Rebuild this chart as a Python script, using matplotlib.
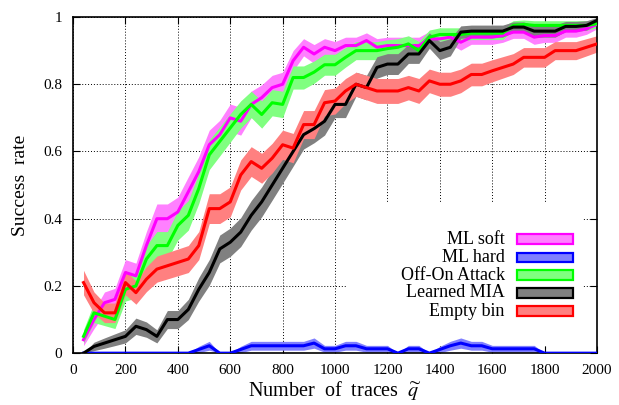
import numpy as np
import matplotlib
matplotlib.use("Agg")
import matplotlib.pyplot as plt
from matplotlib.patches import Rectangle

plt.rcParams['font.family'] = ['Liberation Serif', 'DejaVu Serif']
plt.rcParams['mathtext.fontset'] = 'stix'

# number of traces used by each attack
traces = [40, 80, 120, 160, 200, 240, 280, 320, 360, 400,
          440, 480, 520, 560, 600, 640, 680, 720, 760, 800,
          840, 880, 920, 960, 1000, 1040, 1080, 1120, 1160, 1200,
          1240, 1280, 1320, 1360, 1400, 1440, 1480, 1520, 1560, 1600,
          1640, 1680, 1720, 1760, 1800, 1840, 1880, 1920, 1960, 2000]

ml_soft = [0.04, 0.10, 0.15, 0.16, 0.24, 0.23, 0.32, 0.40, 0.40, 0.42,
           0.48, 0.54, 0.62, 0.65, 0.70, 0.69, 0.74, 0.76, 0.79, 0.80,
           0.87, 0.91, 0.89, 0.91, 0.90, 0.915, 0.915, 0.93, 0.91, 0.915,
           0.915, 0.915, 0.915, 0.935, 0.935, 0.94, 0.925, 0.94, 0.94, 0.94,
           0.945, 0.955, 0.955, 0.94, 0.945, 0.945, 0.958, 0.958, 0.965, 0.978]

ml_hard = [0, 0, 0, 0, 0, 0, 0, 0, 0, 0,
           0, 0.011, 0.022, 0, 0, 0.011, 0.022, 0.022, 0.022, 0.022,
           0.022, 0.022, 0.03, 0.013, 0.013, 0.022, 0.022, 0.013, 0.013, 0.013,
           0, 0.013, 0.013, 0, 0.011, 0.022, 0.03, 0.022, 0.022, 0.013,
           0.013, 0.013, 0.013, 0.013, 0, 0, 0, 0, 0, 0]

off_on = [0.05, 0.12, 0.11, 0.10, 0.19, 0.20, 0.28, 0.32, 0.32, 0.38,
          0.41, 0.49, 0.59, 0.63, 0.67, 0.71, 0.74, 0.71, 0.745, 0.74,
          0.82, 0.82, 0.836, 0.858, 0.858, 0.88, 0.90, 0.90, 0.90, 0.906,
          0.91, 0.92, 0.90, 0.94, 0.948, 0.948, 0.948, 0.952, 0.952, 0.952,
          0.952, 0.975, 0.978, 0.975, 0.975, 0.975, 0.975, 0.975, 0.975, 0.98]

learned_mia = [0.0, 0.02, 0.03, 0.04, 0.05, 0.08, 0.07, 0.05, 0.10, 0.10,
               0.13, 0.19, 0.24, 0.31, 0.33, 0.36, 0.41, 0.45, 0.50, 0.55,
               0.60, 0.65, 0.668, 0.69, 0.74, 0.74, 0.80, 0.79, 0.85, 0.86,
               0.86, 0.89, 0.89, 0.93, 0.90, 0.91, 0.955, 0.958, 0.958, 0.958,
               0.958, 0.97, 0.97, 0.958, 0.958, 0.958, 0.972, 0.972, 0.975, 0.99]

empty_bin = [0.21, 0.15, 0.12, 0.12, 0.21, 0.18, 0.22, 0.25, 0.26, 0.27,
             0.28, 0.32, 0.43, 0.43, 0.45, 0.53, 0.57, 0.55, 0.58, 0.62,
             0.61, 0.68, 0.68, 0.745, 0.75, 0.78, 0.80, 0.79, 0.78, 0.78,
             0.78, 0.79, 0.78, 0.81, 0.80, 0.80, 0.81, 0.829, 0.829, 0.84,
             0.85, 0.86, 0.88, 0.88, 0.88, 0.90, 0.90, 0.90, 0.91, 0.92]

labels = ['ML soft', 'ML hard', 'Off-On Attack', 'Learned MIA', 'Empty bin']
line_colors = ['#ff00ff', '#0000ff', '#00ff00', '#000000', '#ff0000']
band_colors = ['#ff80ff', '#8080ff', '#80ff80', '#808080', '#ff8080']
n_runs = 125

series = [ml_soft, ml_hard, off_on, learned_mia, empty_bin]

fig = plt.figure(figsize=(6.19, 4.05), dpi=100)
ax = fig.add_axes([0.118, 0.128, 0.8465, 0.83])

x = np.array(traces)

# shaded bands first (binomial standard error), lines on top
for vals, bc in zip(series, band_colors):
    p = np.array(vals)
    err = np.sqrt(p * (1 - p) / n_runs)
    ax.fill_between(x, p - err, p + err, color=bc, linewidth=0, zorder=2)

for vals, lc in zip(series, line_colors):
    ax.plot(x, vals, color=lc, linewidth=2.2, zorder=3)

ax.set_xlim(0, 2000)
ax.set_ylim(0, 1)
ax.set_xticks(range(0, 2001, 200))
ax.set_yticks([0, 0.2, 0.4, 0.6, 0.8, 1])
ax.set_yticklabels(['0', '0.2', '0.4', '0.6', '0.8', '1'])
ax.grid(True, color='black', linestyle=(0, (1, 2)), linewidth=0.7)
ax.set_axisbelow(True)
ax.tick_params(direction='in', length=5, width=0.8, top=True, right=True,
               labelsize=11, pad=8)
for spine in ax.spines.values():
    spine.set_linewidth(1.2)

ax.set_xlabel('Number  of  traces  $\\widetilde{q}$', fontsize=14.5, labelpad=1)
ax.set_ylabel('Success  rate', fontsize=14, labelpad=10)

# key: white box behind, text right-aligned next to outlined swatches
ax.add_patch(Rectangle((0.523, 0.024), 0.45, 0.425, transform=ax.transAxes,
                       facecolor='white', edgecolor='none', zorder=1))
row_y = [0.339, 0.285, 0.232, 0.179, 0.125]
for ry, lab, lc, bc in zip(row_y, labels, line_colors, band_colors):
    ax.text(0.824, ry, lab, transform=ax.transAxes, ha='right', va='center',
            fontsize=13, zorder=5)
    ax.add_patch(Rectangle((0.847, ry - 0.014), 0.107, 0.028,
                           transform=ax.transAxes, facecolor=bc,
                           edgecolor=lc, linewidth=1.6, zorder=5))

fig.savefig('out.png', dpi=100)
